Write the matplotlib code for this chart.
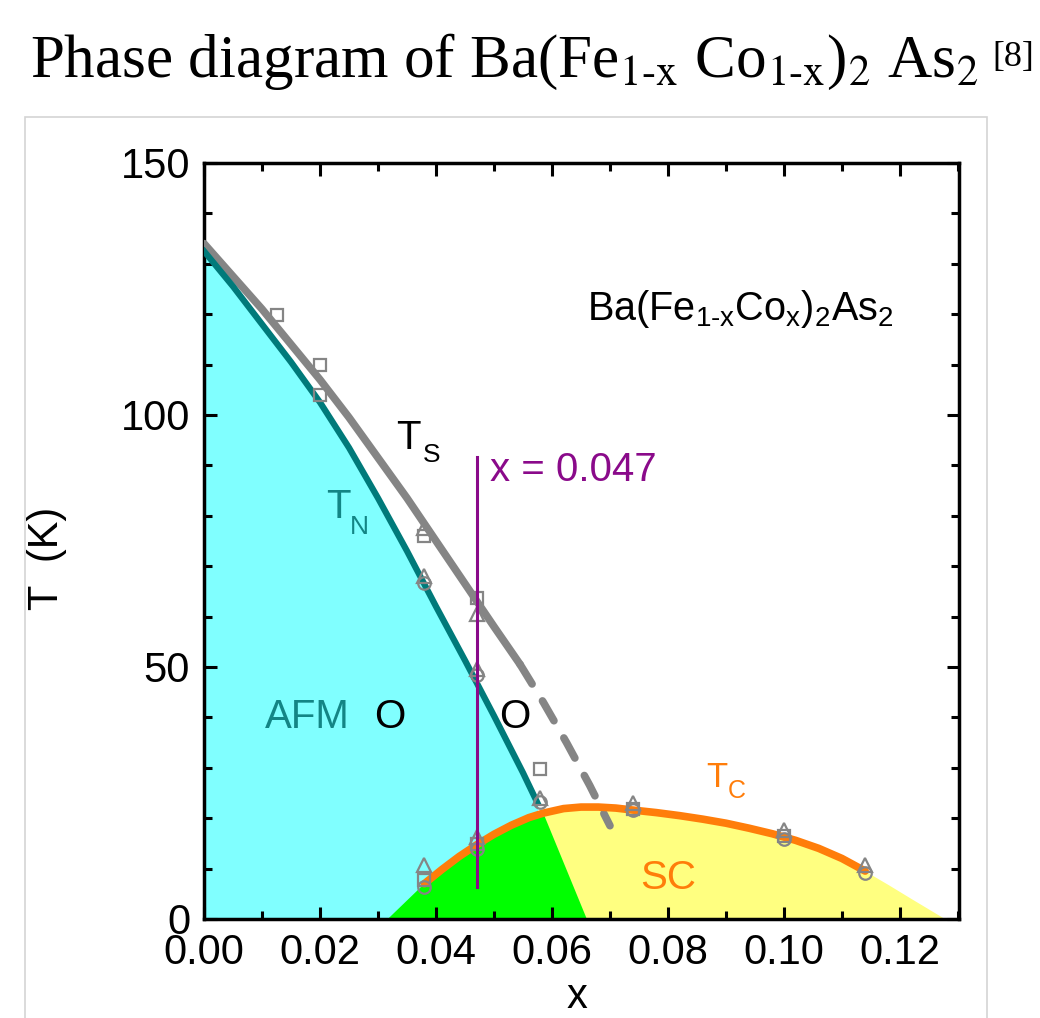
import matplotlib
matplotlib.use('Agg')
import matplotlib.pyplot as plt
from matplotlib.patches import Rectangle, Polygon
from matplotlib.ticker import MultipleLocator

plt.rcParams['font.family'] = ['Liberation Sans', 'DejaVu Sans']
plt.rcParams['mathtext.fontset'] = 'custom'
plt.rcParams['mathtext.rm'] = 'Liberation Sans'
plt.rcParams['mathtext.it'] = 'Liberation Sans:italic'

# --- data ---
# T_N (AFM transition), teal
tn_x = [0.0, 0.005, 0.010, 0.015, 0.020, 0.025, 0.030, 0.035, 0.040, 0.045, 0.050, 0.055, 0.0575]
tn_t = [132.5, 125.5, 118.0, 110.5, 102.5, 93.5, 83.5, 73.0, 62.0, 51.3, 40.3, 29.0, 23.0]

# T_S (structural), gray, solid part and dashed extrapolation
ts_x = [0.0, 0.005, 0.010, 0.015, 0.020, 0.025, 0.030, 0.035, 0.040, 0.045, 0.050, 0.0545]
ts_t = [134.0, 127.5, 121.0, 114.0, 107.0, 99.5, 91.5, 83.5, 75.0, 66.5, 58.0, 50.5]
ts_dash_x = [0.0545, 0.0585, 0.0625, 0.0665, 0.070]
ts_dash_t = [50.5, 43.0, 35.0, 26.5, 18.5]

# T_c (superconducting dome), orange
tc_x = [0.038, 0.041, 0.044, 0.047, 0.050, 0.053, 0.056, 0.0585, 0.062, 0.065, 0.068,
        0.071, 0.074, 0.078, 0.082, 0.086, 0.090, 0.094, 0.098, 0.102, 0.106, 0.110, 0.114]
tc_t = [7.0, 9.8, 12.4, 14.7, 16.8, 18.6, 20.1, 21.0, 21.9, 22.2, 22.2,
        22.0, 21.6, 21.1, 20.5, 19.8, 19.0, 18.0, 16.9, 15.6, 14.0, 12.0, 9.5]
# dome edges down to T = 0
sc_left_x, sc_left_t = [0.0317], [0.0]
sc_right_x = [0.118, 0.122, 0.1278]
sc_right_t = [6.8, 4.0, 0.0]
coex_top_x = 0.0585  # green region apex on the T_c line
coex_end_x = 0.066   # green region meets x-axis

# measured points (open gray symbols)
sq_x = [0.0125, 0.020, 0.020, 0.038, 0.047, 0.058, 0.038, 0.047, 0.074, 0.100]
sq_t = [119.8, 110.0, 104.0, 76.0, 63.7, 29.8, 7.7, 14.9, 21.8, 16.5]
ci_x = [0.038, 0.047, 0.058, 0.038, 0.047, 0.074, 0.100, 0.114]
ci_t = [66.7, 48.4, 23.2, 6.4, 13.9, 21.6, 15.8, 9.1]
tr_x = [0.038, 0.038, 0.047, 0.047, 0.058, 0.038, 0.047, 0.074, 0.100, 0.114]
tr_t = [77.5, 68.0, 60.5, 49.5, 24.0, 10.7, 16.2, 23.0, 17.7, 10.7]

x_sel = 0.047
x_sel_range = [6.3, 91.7]

xticks = [0.00, 0.02, 0.04, 0.06, 0.08, 0.10, 0.12]
yticks = [0, 50, 100, 150]

teal = '#007a7a'
gray = '#858585'
orange = '#ff7d0a'
purple = '#8a0a8a'

fig = plt.figure(figsize=(10.4, 10.18), dpi=100)
# screenshot frame
fig.patches.append(Rectangle((25 / 1040, -0.01), 962 / 1040, 1 - 117 / 1018 + 0.01,
                             transform=fig.transFigure, fill=False,
                             edgecolor='#d4d4d4', lw=1.2))

ax = fig.add_axes([0.1962, 0.0973, 0.7260, 0.7426])

# regions
ax.fill_between(tn_x, tn_t, 0, color='#80ffff', lw=0)
yel_x = [x for x in tc_x if x >= coex_top_x] + sc_right_x
yel_t = [t for x, t in zip(tc_x, tc_t) if x >= coex_top_x] + sc_right_t
ax.fill_between(yel_x, yel_t, 0, color='#ffff80', lw=0)
green = ([(sc_left_x[0], sc_left_t[0])] +
         [(x, t) for x, t in zip(tc_x, tc_t) if x <= coex_top_x] +
         [(coex_end_x, 0)])
ax.add_patch(Polygon(green, closed=True, color='#00ff00', lw=0))

# transition lines
ax.plot(ts_x, ts_t, color=gray, lw=5.5, solid_capstyle='round', zorder=3)
ax.plot(ts_dash_x, ts_dash_t, color=gray, lw=5.5, dashes=(3, 2.6),
        dash_capstyle='round', zorder=3)
ax.plot(tn_x, tn_t, color=teal, lw=4.5, zorder=3)
ax.plot(tc_x, tc_t, color=orange, lw=5.5, solid_capstyle='round', zorder=3)

mk = dict(ls='none', mfc='none', mec=gray, mew=1.6, zorder=4)
ax.plot(sq_x, sq_t, marker='s', ms=8.5, **mk)
ax.plot(ci_x, ci_t, marker='o', ms=9, **mk)
ax.plot(tr_x, tr_t, marker='^', ms=9.5, **mk)

ax.plot([x_sel, x_sel], x_sel_range, color=purple, lw=2.2, zorder=5)

# labels
ax.text(0.0493, 89, 'x = 0.047', color=purple, fontsize=29, va='center')
ax.text(0.0352, 95.4, 'T', fontsize=29, ha='center', va='center')
ax.text(0.0393, 92.0, 'S', fontsize=19, ha='center', va='center')
ax.text(0.0231, 81.7, 'T', fontsize=29, color='#138585', ha='center', va='center')
ax.text(0.0268, 77.8, 'N', fontsize=19, color='#138585', ha='center', va='center')
ax.text(0.0178, 40, 'AFM', fontsize=29, color='#138585', ha='center', va='center')
ax.text(0.0321, 40, 'O', fontsize=29, ha='center', va='center')
ax.text(0.0536, 40, 'O', fontsize=29, ha='center', va='center')
ax.text(0.0800, 8.1, 'SC', fontsize=29, color=orange, ha='center', va='center')
ax.text(0.0884, 28.0, 'T', fontsize=25, color=orange, ha='center', va='center')
ax.text(0.0918, 25.3, 'C', fontsize=18, color=orange, ha='center', va='center')
ax.text(0.0660, 118.8, r'Ba(Fe$_{\mathrm{1\text{-}x}}$Co$_{\mathrm{x}}$)$_{\mathrm{2}}$As$_{\mathrm{2}}$',
        fontsize=28.5, va='baseline')

ax.set_xlim(0, 0.1302)
ax.set_ylim(0, 150)
ax.set_xticks(xticks)
ax.set_xticklabels(['%.2f' % v for v in xticks])
ax.set_yticks(yticks)
ax.xaxis.set_minor_locator(MultipleLocator(0.01))
ax.yaxis.set_minor_locator(MultipleLocator(10))
ax.tick_params(which='both', direction='in', top=True, right=True, width=2.2,
               labelsize=30, pad=10)
ax.tick_params(which='major', length=9)
ax.tick_params(which='minor', length=6)
for s in ax.spines.values():
    s.set_linewidth(2.5)

ax.set_ylabel('T  (K)', fontsize=30)
ax.yaxis.set_label_coords(-0.181, 0.4775)
ax.set_xlabel('x', fontsize=30, va='top')
ax.xaxis.set_label_coords(0.494, -0.077)

fig.text(30 / 1040, 1 - 77 / 1018,
         r'Phase diagram of Ba(Fe$_{\mathrm{1\text{-}x}}$ Co$_{\mathrm{1\text{-}x}}$)$_{\mathrm{2}}$ As$_{\mathrm{2}}$',
         fontsize=44, family='Liberation Serif', math_fontfamily='stix', va='baseline')
fig.text(992 / 1040, 1 - 66 / 1018, '[8]', fontsize=26,
         family='Liberation Serif', va='baseline')

fig.savefig('out.png', dpi=100)
